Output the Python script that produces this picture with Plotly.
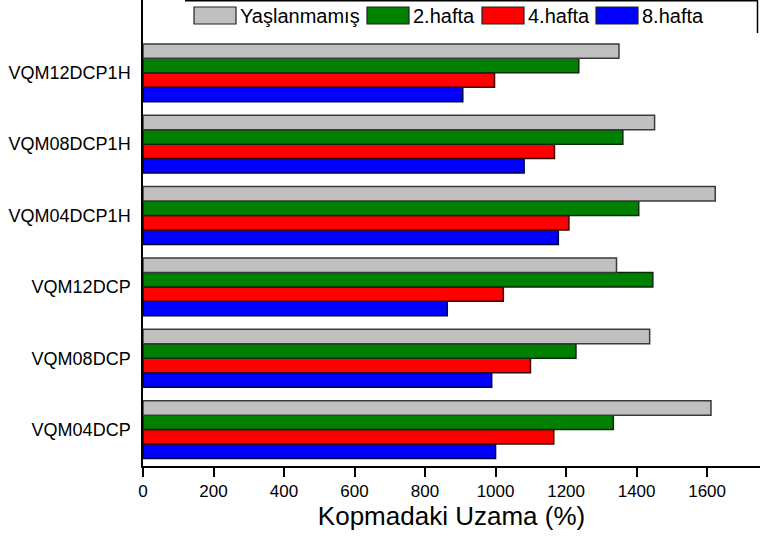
import plotly.graph_objects as go

categories = ["VQM04DCP", "VQM08DCP", "VQM12DCP", "VQM04DCP1H", "VQM08DCP1H", "VQM12DCP1H"]
series_names = ["Yaşlanmamış", "2.hafta", "4.hafta", "8.hafta"]
unaged = [1611, 1437, 1343, 1623, 1451, 1350]
week2 = [1334, 1228, 1446, 1406, 1361, 1236]
week4 = [1165, 1099, 1022, 1208, 1167, 997]
week8 = [1000, 989, 863, 1178, 1081, 907]
x_ticks = [0, 200, 400, 600, 800, 1000, 1200, 1400, 1600]

series_values = [unaged, week2, week4, week8]
fill_colors = ["#C0C0C0", "#008000", "#FF0000", "#0000FF"]
line_colors = ["#3a3a3a", "#0a2a0a", "#3a0000", "#00003a"]

W, H = 760, 537
ML, MR, MT, MB = 143, 0, 0, 71
PW, PH = W - ML - MR, H - MT - MB

FONT = "Liberation Sans, Arial, sans-serif"

fig = go.Figure()
# add bottom-most first (plotly stacks horizontal groups from bottom)
for name, vals, fc, lc in reversed(list(zip(series_names, series_values, fill_colors, line_colors))):
    fig.add_trace(go.Bar(
        y=categories, x=vals, name=name, orientation="h",
        marker=dict(color=fc, line=dict(color=lc, width=1.5)),
        showlegend=False,
    ))

def px_x(p):
    return (p - ML) / PW

def px_y(p):
    return 1 - (p - MT) / PH

shapes = []
annotations = []
sw_left = [194, 367, 482, 596]
sw_w = 42
for i, (name, fc, lc) in enumerate(zip(series_names, fill_colors, line_colors)):
    x0 = sw_left[i]
    shapes.append(dict(type="rect", xref="paper", yref="paper",
                       x0=px_x(x0), x1=px_x(x0 + sw_w), y0=px_y(24), y1=px_y(7),
                       fillcolor=fc, line=dict(color="#222222", width=1.2)))
    annotations.append(dict(xref="paper", yref="paper", x=px_x(x0 + sw_w + 2), y=px_y(16),
                            xanchor="left", yanchor="middle", text=name, showarrow=False,
                            font=dict(family=FONT, size=20, color="black")))
# legend frame (top and right edges visible)
shapes.append(dict(type="line", xref="paper", yref="paper", x0=px_x(185), x1=px_x(758),
                   y0=px_y(0.75), y1=px_y(0.75), line=dict(color="black", width=1.5)))
shapes.append(dict(type="line", xref="paper", yref="paper", x0=px_x(757.5), x1=px_x(757.5),
                   y0=px_y(0), y1=px_y(33), line=dict(color="black", width=1.5)))

fig.update_layout(
    width=W, height=H,
    margin=dict(l=ML, r=MR, t=MT, b=MB, pad=0),
    paper_bgcolor="white", plot_bgcolor="white",
    barmode="group", bargap=0.19, bargroupgap=0,
    font=dict(family=FONT, size=17, color="black"),
    shapes=shapes, annotations=annotations,
    hovermode=False,
    xaxis=dict(
        range=[0, 1750], tickvals=x_ticks, ticktext=[str(v) for v in x_ticks],
        showgrid=False, zeroline=False, showline=True, linecolor="black", linewidth=1.5,
        ticks="outside", ticklen=9, tickwidth=1.5, tickcolor="black",
        tickfont=dict(family=FONT, size=17),
        title=dict(text="Kopmadaki Uzama (%)", font=dict(family=FONT, size=26), standoff=5),
    ),
    yaxis=dict(
        type="category", categoryorder="array", categoryarray=categories,
        range=[-0.51, 6.02], showgrid=False, zeroline=False,
        showline=True, linecolor="black", linewidth=1.5, ticks="",
        tickfont=dict(family=FONT, size=18), ticklabelstandoff=7,
    ),
)

fig.write_html("out.html", config={"displayModeBar": False},
               post_script="document.body.style.margin='0';document.body.style.overflow='hidden';")
